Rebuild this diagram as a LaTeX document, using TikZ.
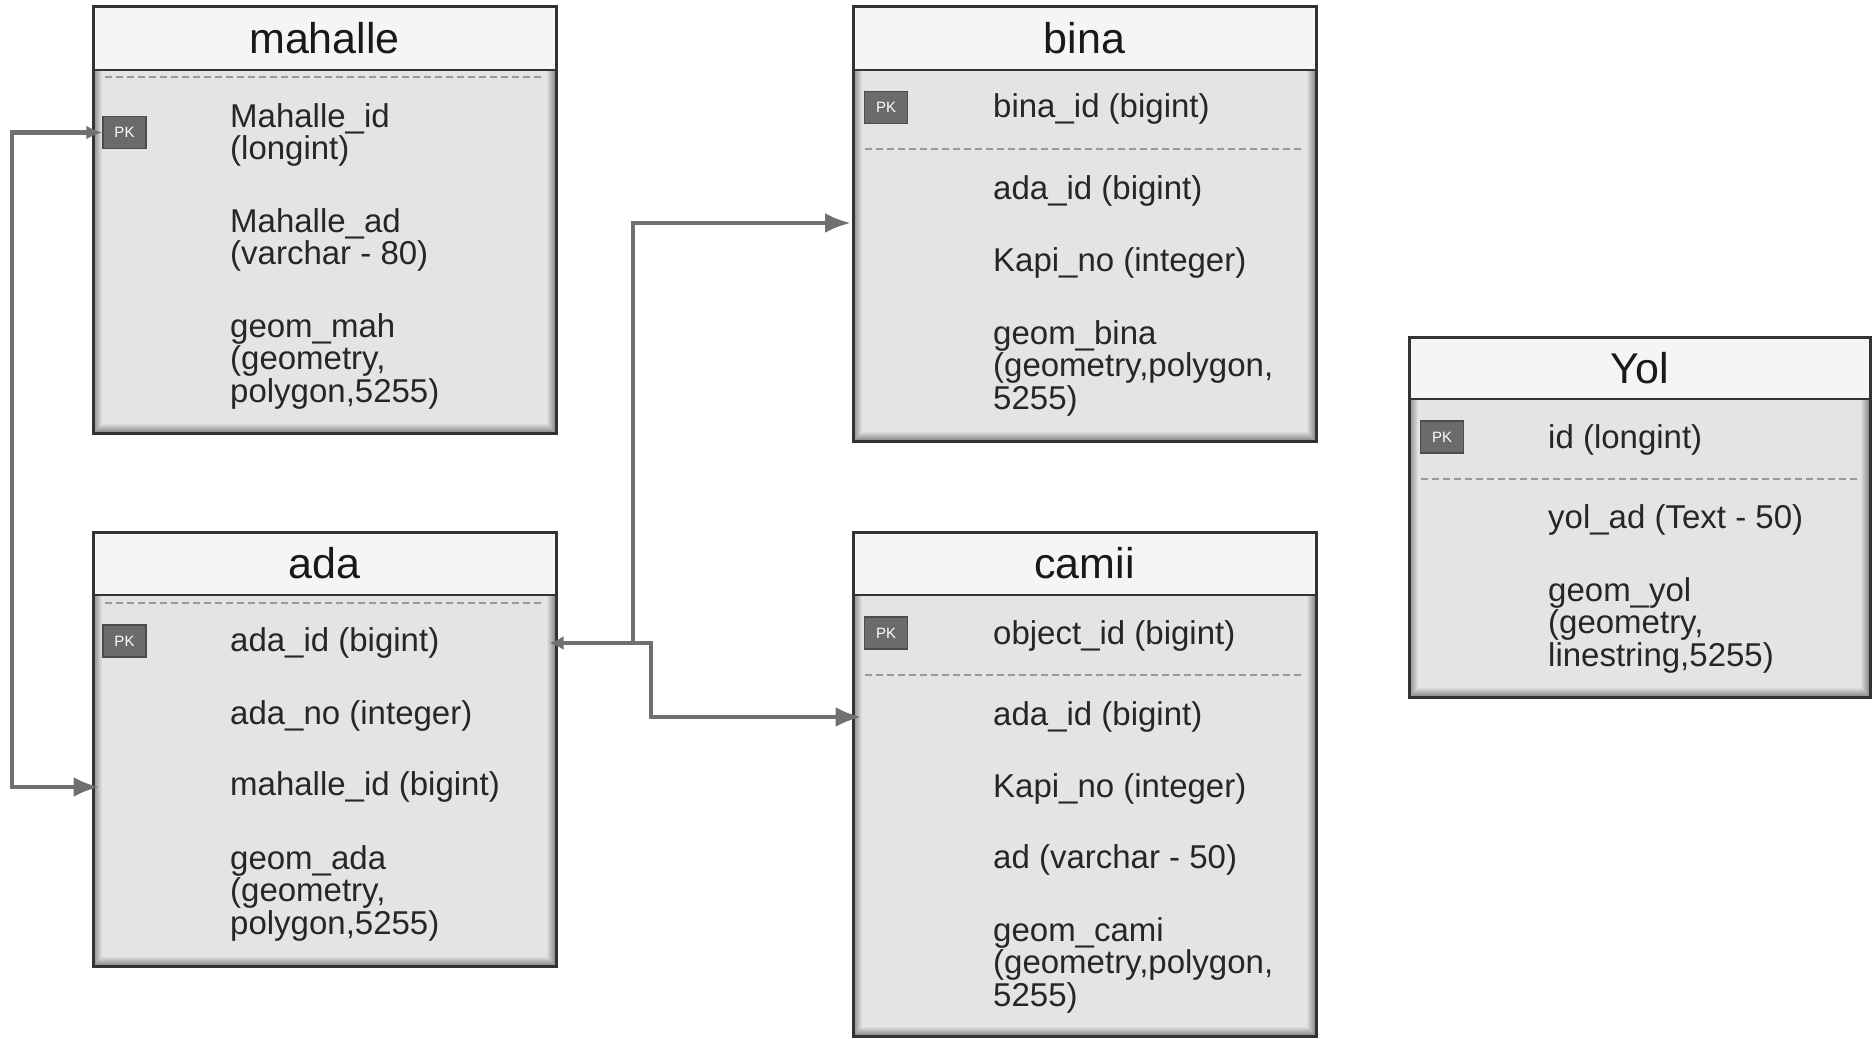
\documentclass[tikz,border=0pt]{standalone}
\usepackage{fontspec}
\setmainfont{Liberation Sans}
\usetikzlibrary{arrows.meta,fit}

\definecolor{headfill}{HTML}{F5F5F5}
\definecolor{bodyfill}{HTML}{E4E4E4}
\definecolor{linkgray}{HTML}{707070}
\definecolor{pkfill}{HTML}{6B6B6B}

\tikzset{
  tableframe/.style={draw=black!80, line width=3pt, inner sep=0pt},
  titletext/.style={font=\fontsize{43}{45}\selectfont, text=black!90},
  field/.style={anchor=west, inner sep=0pt, yshift=-3pt, align=left, font=\fontsize{33}{32.5}\selectfont, text=black!85},
  pkbox/.style={fill=pkfill, draw=black!70, line width=1.5pt, text=white, minimum width=43pt, minimum height=32pt, inner sep=0pt, font=\fontsize{15}{15}\selectfont},
  sepline/.style={draw=black!40, line width=1.5pt, dash pattern=on 7pt off 4pt},
  link/.style={draw=linkgray, line width=4.5pt},
  bigtip/.style={-{Latex[length=26pt,width=20pt]}},
}

% name, x1, y1, header bottom, x2, y2, title
\newcommand{\erdtable}[7]{%
  \fill[headfill] (#2,#3) rectangle (#5,#4);
  \fill[bodyfill] (#2,#4) rectangle (#5,#6);
  \foreach \k [evaluate=\k as \p using int(50-4*\k)] in {1,...,10}
    \draw[black!\p, line width=1.3pt] ({#2+\k},#4) -- ({#2+\k},{#6-\k}) -- ({#5-\k},{#6-\k}) -- ({#5-\k},#4);
  \draw[black!80, line width=2pt] (#2,#4) -- (#5,#4);
  \node[titletext] (#1-title) at ({(#2+#5)/2},{(#3+#4)/2}) {#7};
  \node[tableframe, fit={(#2,#3) (#5,#6)}] (#1) {};
}

\begin{document}
\begin{tikzpicture}[x=1pt, y=-1pt]
  \useasboundingbox (0,0) rectangle (1872,1039);

  % tables
  \erdtable{mahalle}{93}{6}{70}{556}{433}{mahalle}
  \erdtable{ada}{93}{532}{595}{556}{966}{ada}
  \erdtable{bina}{853}{6}{70}{1316}{441}{bina}
  \erdtable{camii}{853}{532}{595}{1316}{1036}{camii}
  \erdtable{yol}{1409}{337}{399}{1870}{697}{Yol}

  % mahalle
  \draw[sepline] (105,77) -- (544,77);
  \node[pkbox] (mahalle-pk) at (124.5,132.5) {PK};
  \node[field] (mahalle-f1) at (230,132) {Mahalle\_id\\(longint)};
  \node[field] (mahalle-f2) at (230,237) {Mahalle\_ad\\(varchar - 80)};
  \node[field] (mahalle-f3) at (230,358) {geom\_mah\\(geometry,\\polygon,5255)};

  % ada
  \draw[sepline] (105,603) -- (544,603);
  \node[pkbox] (ada-pk) at (124.5,641) {PK};
  \node[field] (ada-f1) at (230,640) {ada\_id (bigint)};
  \node[field] (ada-f2) at (230,713) {ada\_no (integer)};
  \node[field] (ada-f3) at (230,784) {mahalle\_id (bigint)};
  \node[field] (ada-f4) at (230,890) {geom\_ada\\(geometry,\\polygon,5255)};

  % bina
  \node[pkbox] (bina-pk) at (886,107.5) {PK};
  \node[field] (bina-f1) at (993,106) {bina\_id (bigint)};
  \draw[sepline] (865,149) -- (1304,149);
  \node[field] (bina-f2) at (993,187.5) {ada\_id (bigint)};
  \node[field] (bina-f3) at (993,260) {Kapi\_no (integer)};
  \node[field] (bina-f4) at (993,365) {geom\_bina\\(geometry,polygon,\\5255)};

  % camii
  \node[pkbox] (camii-pk) at (886,633) {PK};
  \node[field] (camii-f1) at (993,633) {object\_id (bigint)};
  \draw[sepline] (865,675) -- (1304,675);
  \node[field] (camii-f2) at (993,714) {ada\_id (bigint)};
  \node[field] (camii-f3) at (993,786) {Kapi\_no (integer)};
  \node[field] (camii-f4) at (993,857) {ad (varchar - 50)};
  \node[field] (camii-f5) at (993,962) {geom\_cami\\(geometry,polygon,\\5255)};

  % yol
  \node[pkbox] (yol-pk) at (1442,437) {PK};
  \node[field] (yol-f1) at (1548,437) {id (longint)};
  \draw[sepline] (1421,479) -- (1858,479);
  \node[field] (yol-f2) at (1548,517) {yol\_ad (Text - 50)};
  \node[field] (yol-f3) at (1548,622) {geom\_yol\\(geometry,\\linestring,5255)};

  % relations
  \coordinate (loopx) at (12,0);
  \coordinate (split) at (633,643);
  \coordinate (bina-in) at (851,223);
  \draw[link, {Latex[length=16pt,width=14pt]}-{Latex[length=26pt,width=20pt]}, shorten >=-8pt]
    (mahalle-pk.west) -- (mahalle-pk.west -| loopx) |- (ada.west |- ada-f3);
  \draw[link, {Latex[length=14pt,width=14pt]}-{Latex[length=26pt,width=20pt]}, shorten <=-8pt]
    (ada.east |- ada-f1) -- (split) |- (bina-in);
  \draw[link, bigtip, shorten >=-10pt] (split) -- ++(18,0) |- (camii.west |- camii-f2);
\end{tikzpicture}
\end{document}
